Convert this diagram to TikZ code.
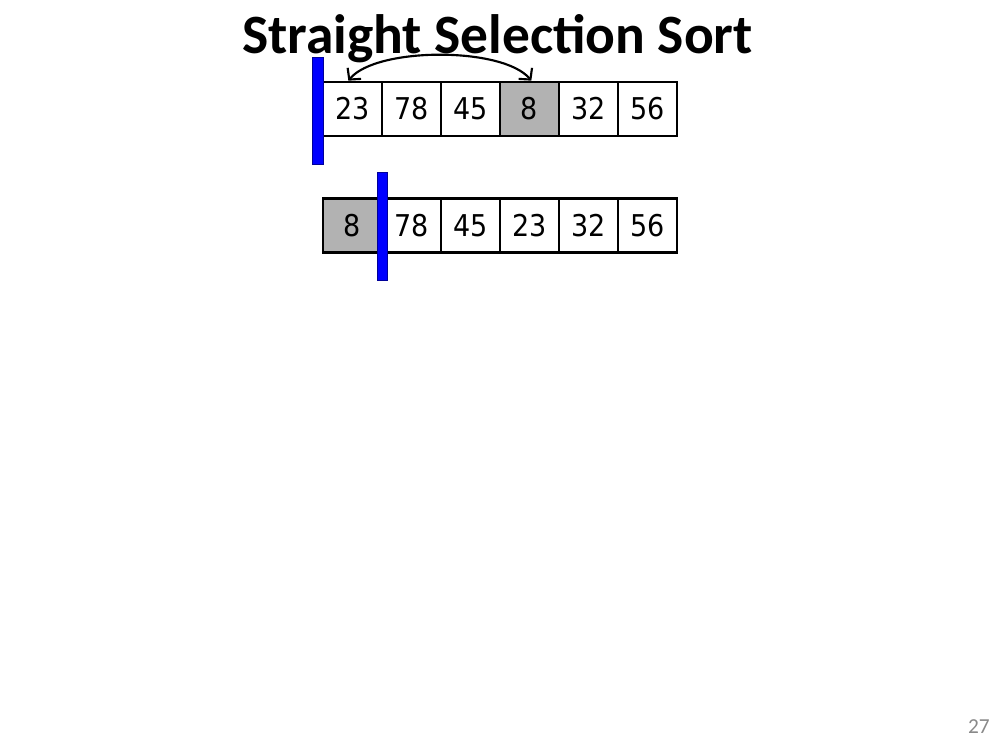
\documentclass[tikz,border=0pt]{standalone}
\usepackage{fontspec}
\setmainfont{Carlito}
\newfontfamily\cellfont{DejaVu Sans Condensed}
\usetikzlibrary{arrows.meta,calc}
\definecolor{cellgray}{RGB}{178,178,178}
\definecolor{pagegray}{RGB}{137,137,137}
\tikzset{
  cell/.style={draw=black, line width=2pt, minimum width=59*0.75pt, minimum height=54*0.75pt,
    inner sep=0pt, font=\cellfont\fontsize{22.5}{26}\selectfont, anchor=west},
  sel/.style={cell, fill=cellgray},
  bar/.style={fill=blue, draw=blue!60!black, line width=0.4pt},
  swaparc/.style={line width=1.6pt, {Straight Barb[length=6pt,width=13pt]}-{Straight Barb[length=6pt,width=13pt]}}
}
\begin{document}
\begin{tikzpicture}[x=0.75pt,y=-0.75pt]
\useasboundingbox (0,0) rectangle (1000,750);
\fill[white] (0,0) rectangle (1000,750);
\node[anchor=base, font=\bfseries\fontsize{41.6}{50}\selectfont, inner sep=0pt] (title) at (497.5,53) {Straight Selection Sort};
% row 1
\node[cell] (a1) at (321.5,109) {23};
\node[cell] (a2) at (380.5,109) {78};
\node[cell] (a3) at (439.5,109) {45};
\node[sel]  (a4) at (498.5,109) {8};
\node[cell] (a5) at (557.5,109) {32};
\node[cell] (a6) at (616.5,109) {56};
\path[bar] (312,57) rectangle (323,164);
% arc
\coordinate (s1) at ($(a1.north)+(-4,0)$);
\coordinate (s2) at ($(a4.north)+(2,0)$);
\draw[swaparc] (s1) .. controls ($(s1)+(28,-34)$) and ($(s2)+(-28,-34)$) .. (s2);
% row 2
\node[sel]  (b1) at (321.5,225.5) {8};
\node[cell] (b2) at (380.5,225.5) {78};
\node[cell] (b3) at (439.5,225.5) {45};
\node[cell] (b4) at (498.5,225.5) {23};
\node[cell] (b5) at (557.5,225.5) {32};
\node[cell] (b6) at (616.5,225.5) {56};
\path[bar] (377,172) rectangle (387,280);
% page number
\node[text=pagegray, font=\fontsize{16}{19}\selectfont, anchor=base east, inner sep=0pt] (pg) at (990,733) {27};
\end{tikzpicture}
\end{document}
